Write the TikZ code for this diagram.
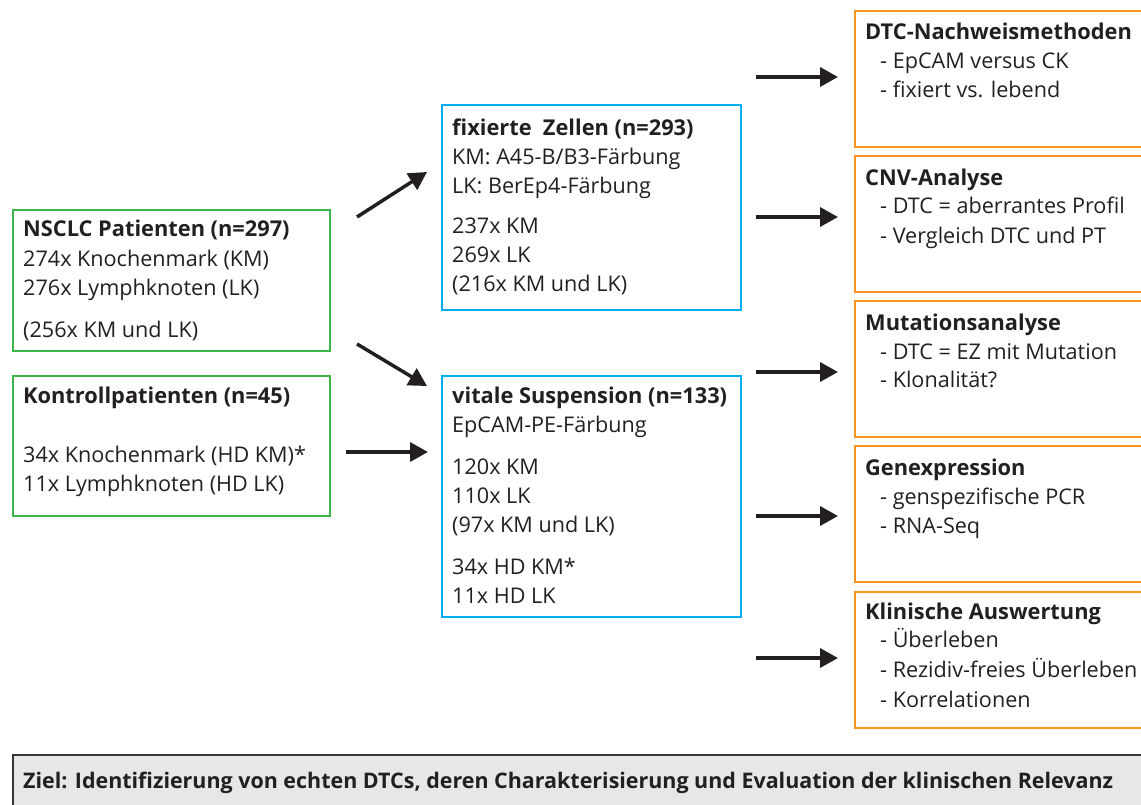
\documentclass[tikz,border=0pt]{standalone}
\usepackage{fontspec}
\setmainfont{Open Sans}
\usetikzlibrary{arrows.meta}
\definecolor{grn}{HTML}{3DB54A}
\definecolor{blu}{HTML}{00AEEF}
\definecolor{org}{HTML}{F7941D}
\definecolor{ban}{HTML}{E6E7E8}
\definecolor{ink}{HTML}{231F20}
\tikzset{
  gbox/.style={draw=grn, line width=2pt, anchor=north west, inner sep=0pt},
  bbox/.style={draw=blu, line width=2pt, anchor=north west, inner sep=0pt},
  obox/.style={draw=org, line width=2pt, anchor=north west, inner sep=0pt},
  txt/.style={anchor=base west, inner sep=0pt, text=ink, font=\fontsize{21.6}{25}\selectfont},
  hd/.style={txt, font=\fontsize{21.8}{25}\selectfont\bfseries},
  arr/.style={draw=ink, line width=3.5pt, -{Triangle[length=18pt,width=19pt]}},
}
\begin{document}
\begin{tikzpicture}[x=1pt,y=-1pt]
\useasboundingbox (0,0) rectangle (1141,804);
\clip (0,0) rectangle (1141,804);
% left boxes
\node[gbox, minimum width=317pt, minimum height=141pt] (nsclc) at (12,209) {};
\node[gbox, minimum width=317pt, minimum height=140pt] (kontr) at (12,375) {};
% blue boxes
\node[bbox, minimum width=299pt, minimum height=205pt] (fix) at (441,104) {};
\node[bbox, minimum width=299pt, minimum height=241pt] (vit) at (441,375) {};
% orange boxes
\node[obox, minimum width=320pt, minimum height=136pt] (o1) at (854,10) {};
\node[obox, minimum width=320pt, minimum height=136pt] (o2) at (854,155) {};
\node[obox, minimum width=320pt, minimum height=136pt] (o3) at (854,300) {};
\node[obox, minimum width=320pt, minimum height=136pt] (o4) at (854,445) {};
\node[obox, minimum width=320pt, minimum height=136pt] (o5) at (854,591) {};
% banner
\node[draw=ink!90, fill=ban, line width=2pt, anchor=north west, minimum width=1160pt, minimum height=70pt, inner sep=0pt] (banner) at (12,754) {};
\node[hd, font=\fontsize{21.45}{25}\selectfont\bfseries] (ziel) at (23,788) {Ziel: Identifizierung von echten DTCs, deren Charakterisierung und Evaluation der klinischen Relevanz};
% NSCLC text
\node[hd] (t1) at (23,236) {NSCLC Patienten (n=297)};
\node[txt] (t2) at (23,266) {274x Knochenmark (KM)};
\node[txt] (t3) at (23,295) {276x Lymphknoten (LK)};
\node[txt] (t4) at (23,337) {(256x KM und LK)};
% Kontroll text
\node[hd] (k1) at (23,403) {Kontrollpatienten (n=45)};
\node[txt] (k2) at (23,462) {34x Knochenmark (HD KM)*};
\node[txt] (k3) at (23,491) {11x Lymphknoten (HD LK)};
% fixierte
\node[hd] (f1) at (452,135) {fixierte\ \ Zellen (n=293)};
\node[txt] (f2) at (452,164) {KM: A45-B/B3-Färbung};
\node[txt] (f3) at (452,193) {LK: BerEp4-Färbung};
\node[txt] (f4) at (452,233) {237x KM};
\node[txt] (f5) at (452,262) {269x LK};
\node[txt] (f6) at (452,291) {(216x KM und LK)};
% vitale
\node[hd] (v1) at (452,403) {vitale Suspension (n=133)};
\node[txt] (v2) at (452,432) {EpCAM-PE-Färbung};
\node[txt] (v3) at (452,474) {120x KM};
\node[txt] (v4) at (452,503) {110x LK};
\node[txt] (v5) at (452,532) {(97x KM und LK)};
\node[txt] (v6) at (452,574) {34x HD KM*};
\node[txt] (v7) at (452,603) {11x HD LK};
% orange texts
\node[hd] (a1) at (865,39) {DTC-Nachweismethoden};
\node[txt] (a2) at (880,68) {- EpCAM versus CK};
\node[txt] (a3) at (880,97) {- fixiert vs. lebend};
\node[hd] (b1) at (865,185) {CNV-Analyse};
\node[txt] (b2) at (880,213) {- DTC = aberrantes Profil};
\node[txt] (b3) at (880,243) {- Vergleich DTC und PT};
\node[hd] (c1) at (865,330) {Mutationsanalyse};
\node[txt] (c2) at (880,359) {- DTC = EZ mit Mutation};
\node[txt] (c3) at (880,387) {- Klonalität?};
\node[hd] (d1) at (865,475) {Genexpression};
\node[txt] (d2) at (880,504) {- genspezifische PCR};
\node[txt] (d3) at (880,533) {- RNA-Seq};
\node[hd] (e1) at (865,619) {Klinische Auswertung};
\node[txt] (e2) at (880,647) {- Überleben};
\node[txt] (e3) at (880,677) {- Rezidiv-freies Überleben};
\node[txt] (e4) at (880,707) {- Korrelationen};
% arrow coordinates
\coordinate (s1) at (357,217); \coordinate (e1p) at (427,172);
\coordinate (s2) at (357,344); \coordinate (e2p) at (427,386);
\coordinate (s3) at (346,452); \coordinate (e3p) at (428,452);
\draw[arr] (s1) -- (e1p);
\draw[arr] (s2) -- (e2p);
\draw[arr] (s3) -- (e3p);
\foreach \y/\n in {77/r1,217/r2,372/r3,516/r4,658/r5}{
  \coordinate (\n s) at (756,\y);
  \coordinate (\n e) at (838,\y);
  \draw[arr] (\n s) -- (\n e);
}
\end{tikzpicture}
\end{document}
